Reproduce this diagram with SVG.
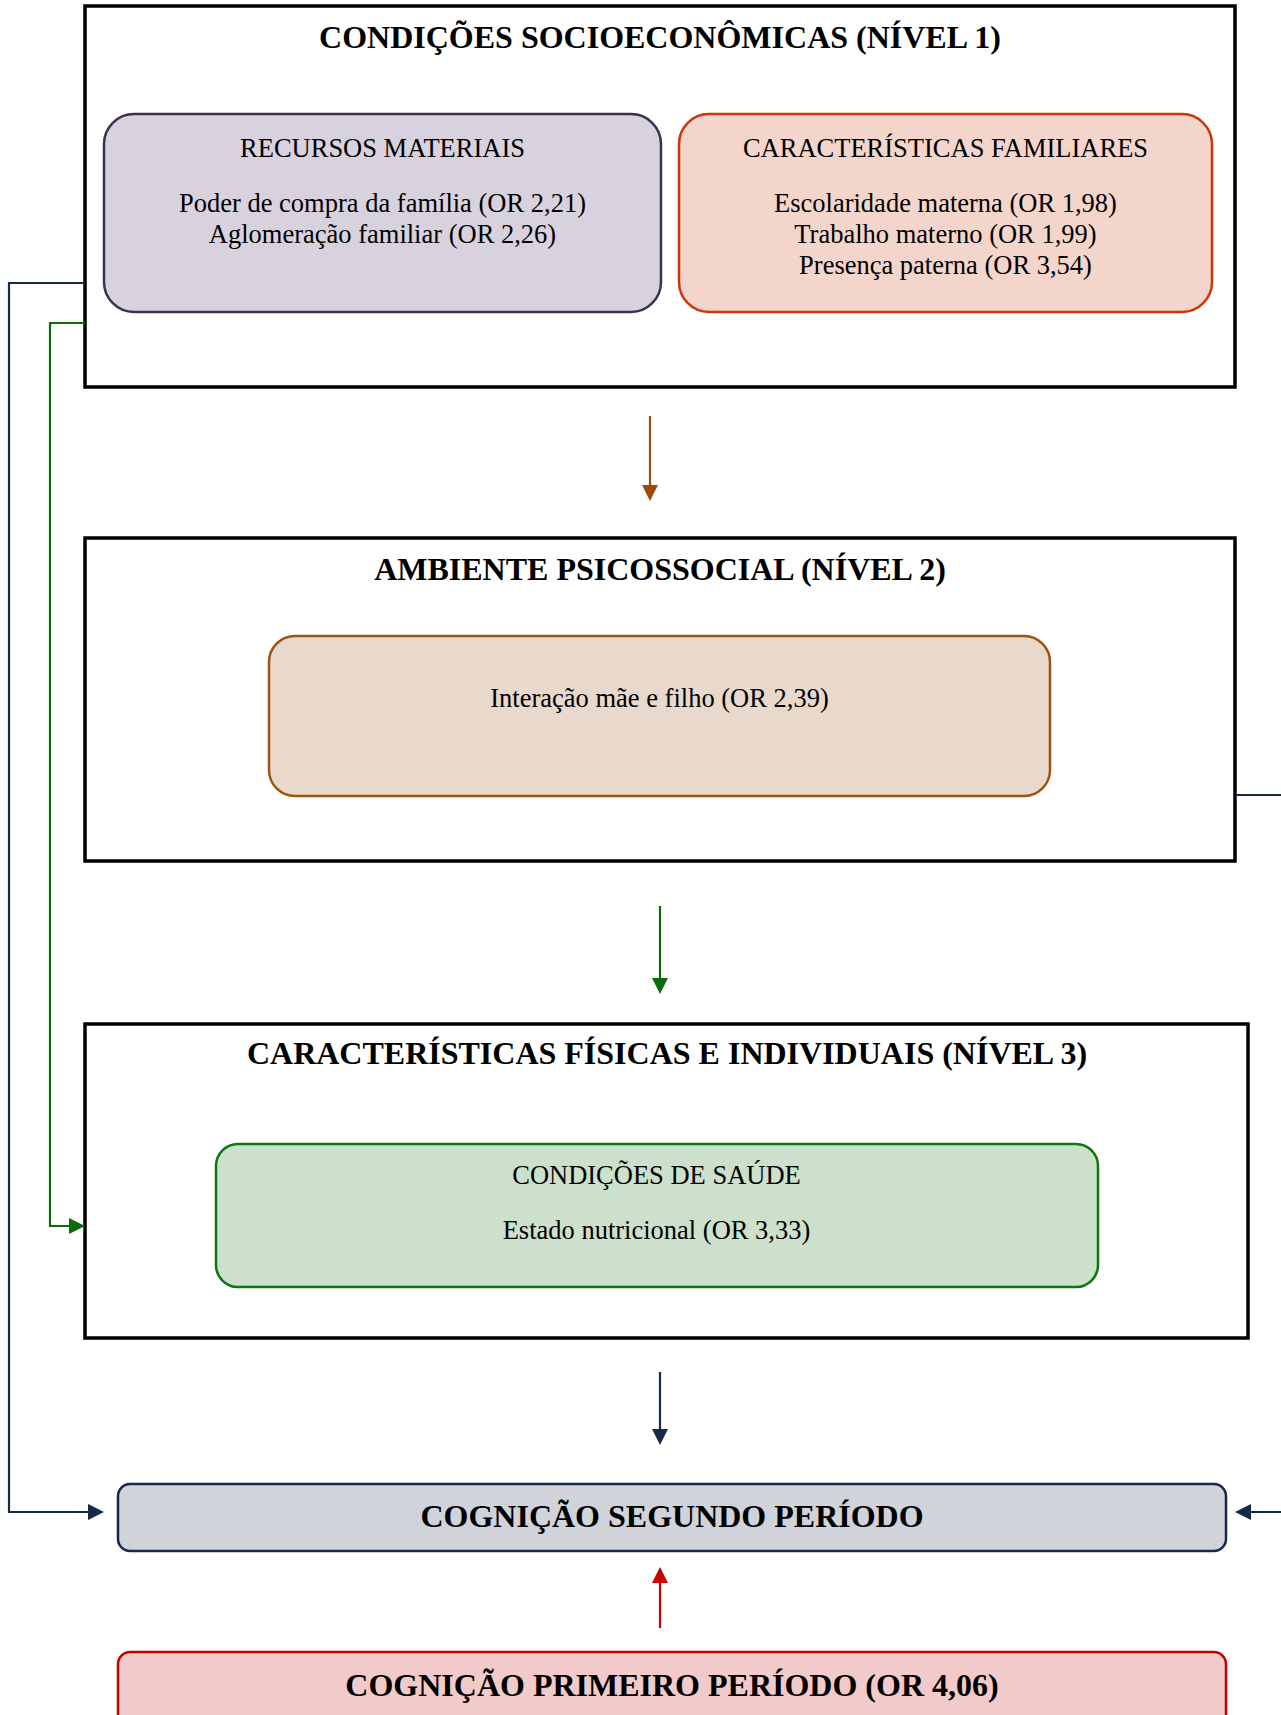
<svg xmlns="http://www.w3.org/2000/svg" width="1281" height="1715" viewBox="0 0 1281 1715">
<style>
.frame{fill:#ffffff;stroke:#000000;stroke-width:3.5}
.t{font-family:"Liberation Serif","Times New Roman",serif;fill:#000000;text-anchor:middle}
.body{font-size:26.5px}
.head{font-size:32px;font-weight:bold}
.conn{fill:none;stroke-width:2.2}
</style>
<defs>
<marker id="aBrown" markerUnits="userSpaceOnUse" markerWidth="17" markerHeight="17" refX="0" refY="8" orient="auto"><path d="M0,0 L16,8 L0,16 z" fill="#9a4a0c"/></marker>
<marker id="aGreen" markerUnits="userSpaceOnUse" markerWidth="17" markerHeight="17" refX="0" refY="8" orient="auto"><path d="M0,0 L16,8 L0,16 z" fill="#0b6b0b"/></marker>
<marker id="aNavy" markerUnits="userSpaceOnUse" markerWidth="17" markerHeight="17" refX="0" refY="8" orient="auto"><path d="M0,0 L16,8 L0,16 z" fill="#15294a"/></marker>
<marker id="aRed" markerUnits="userSpaceOnUse" markerWidth="17" markerHeight="17" refX="0" refY="8" orient="auto"><path d="M0,0 L16,8 L0,16 z" fill="#cc0000"/></marker>
</defs>
<rect width="1281" height="1715" fill="#ffffff"/>

<g id="nivel1">
<rect class="frame" x="85" y="6" width="1150" height="381"/>
<text class="t head" x="660" y="48">CONDIÇÕES SOCIOECONÔMICAS (NÍVEL 1)</text>
</g>
<g id="recursos">
<rect x="104" y="114" width="557" height="198" rx="30" fill="#d8d2de" stroke="#3b3150" stroke-width="2.5"/>
<text class="t body" x="382.5" y="157">RECURSOS MATERIAIS</text>
<text class="t body" x="382.5" y="212">Poder de compra da família (OR 2,21)</text>
<text class="t body" x="382.5" y="243">Aglomeração familiar (OR 2,26)</text>
</g>
<g id="familiares">
<rect x="679" y="114" width="533" height="198" rx="30" fill="#f3d5cc" stroke="#cc360a" stroke-width="2.5"/>
<text class="t body" x="945.5" y="157">CARACTERÍSTICAS FAMILIARES</text>
<text class="t body" x="945.5" y="212">Escolaridade materna (OR 1,98)</text>
<text class="t body" x="945.5" y="243">Trabalho materno (OR 1,99)</text>
<text class="t body" x="945.5" y="274">Presença paterna (OR 3,54)</text>
</g>

<g id="nivel2">
<rect class="frame" x="85" y="538" width="1150" height="323"/>
<text class="t head" x="660" y="580">AMBIENTE PSICOSSOCIAL (NÍVEL 2)</text>
</g>
<g id="interacao">
<rect x="269" y="636" width="781" height="160" rx="26" fill="#e8d9cc" stroke="#a0520f" stroke-width="2.5"/>
<text class="t body" x="659.5" y="707">Interação mãe e filho (OR 2,39)</text>
</g>

<g id="nivel3">
<rect class="frame" x="85" y="1024" width="1163" height="314"/>
<text class="t head" x="667" y="1064">CARACTERÍSTICAS FÍSICAS E INDIVIDUAIS (NÍVEL 3)</text>
</g>
<g id="saude">
<rect x="216" y="1144" width="882" height="143" rx="22" fill="#cde0cb" stroke="#117511" stroke-width="2.5"/>
<text class="t body" x="656.5" y="1184">CONDIÇÕES DE SAÚDE</text>
<text class="t body" x="656.5" y="1239">Estado nutricional (OR 3,33)</text>
</g>

<g id="segundo">
<rect x="118" y="1484" width="1108" height="67" rx="12" fill="#d0d4da" stroke="#15294a" stroke-width="2.5"/>
<text class="t head" x="672" y="1527">COGNIÇÃO SEGUNDO PERÍODO</text>
</g>
<g id="primeiro">
<rect x="118" y="1652" width="1108" height="90" rx="12" fill="#f2caca" stroke="#c40000" stroke-width="2.5"/>
<text class="t head" x="672" y="1696">COGNIÇÃO PRIMEIRO PERÍODO (OR 4,06)</text>
</g>

<g id="connectors">
<path class="conn" stroke="#9a4a0c" d="M650,416 V485" marker-end="url(#aBrown)"/>
<path class="conn" stroke="#0b6b0b" d="M660,906 V978" marker-end="url(#aGreen)"/>
<path class="conn" stroke="#15294a" d="M660,1372 V1429" marker-end="url(#aNavy)"/>
<path class="conn" stroke="#cc0000" d="M660,1628 V1583" marker-end="url(#aRed)"/>
<path class="conn" stroke="#15294a" d="M85,283 H9 V1512 H88" marker-end="url(#aNavy)"/>
<path class="conn" stroke="#0b6b0b" d="M85,323 H50 V1226 H69" marker-end="url(#aGreen)"/>
<path class="conn" stroke="#15294a" d="M1236,795 H1300 V1512 H1251" marker-end="url(#aNavy)"/>
</g>
</svg>
